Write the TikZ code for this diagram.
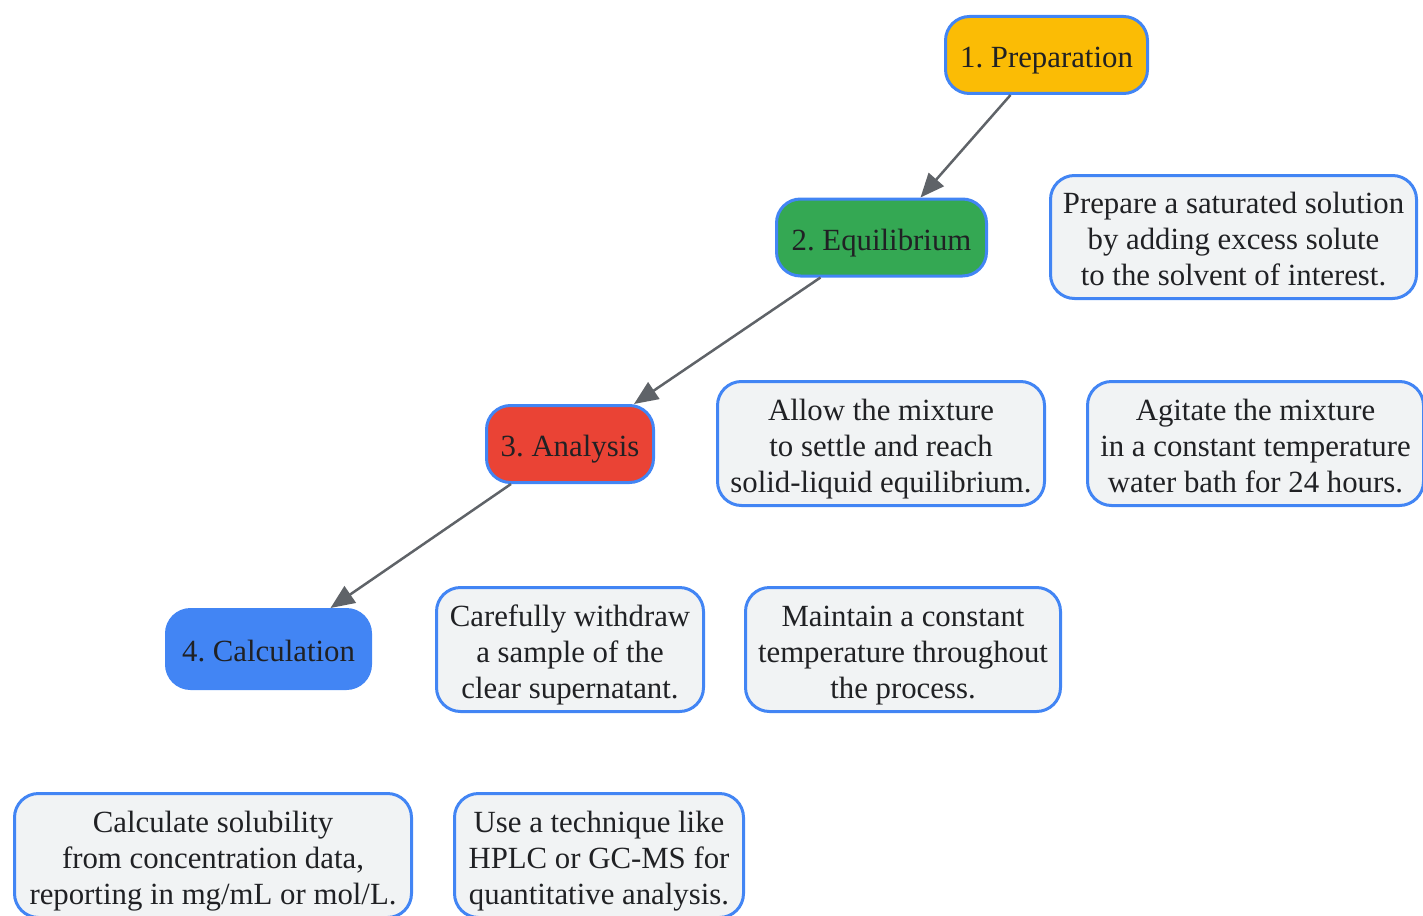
\documentclass[tikz,border=0pt]{standalone}
\usepackage{fontspec}
\setmainfont{Liberation Serif}
\frenchspacing
\usetikzlibrary{arrows.meta}
\definecolor{gblue}{HTML}{4285F4}
\definecolor{gyellow}{HTML}{FBBC05}
\definecolor{ggreen}{HTML}{34A853}
\definecolor{gred}{HTML}{EA4335}
\definecolor{ggrey}{HTML}{F1F3F4}
\definecolor{gtext}{HTML}{202124}
\definecolor{garrow}{HTML}{5F6368}
\newcommand\topstr{\rule{0pt}{32pt}}
\newcommand\botstr{\rule[-7pt]{0pt}{7pt}}
\tikzset{
  box/.style={draw=gblue, line width=3pt, rounded corners=24pt, inner sep=0pt, align=center,
    text=gtext, font=\fontsize{30.8}{36}\selectfont},
  stepbox/.style={box, minimum height=77pt},
  notebox/.style={box, fill=ggrey, minimum height=124pt},
  flow/.style={draw=garrow, line width=2.5pt, -{Triangle[length=24pt,width=20pt]}}
}
\begin{document}
\begin{tikzpicture}[x=1pt,y=-1pt]
\useasboundingbox (0,0) rectangle (1423,915);
\node[stepbox, fill=gyellow, minimum width=202pt] (prep) at (1046.5,55) {\topstr 1. Preparation\botstr};
\node[stepbox, fill=ggreen, minimum width=210pt] (equi) at (881.5,237.5) {\topstr 2. Equilibrium\botstr};
\node[stepbox, fill=gred, minimum width=167pt] (ana) at (570,444) {\topstr 3. Analysis\botstr};
\node[stepbox, fill=gblue, minimum width=204pt, minimum height=79pt] (calc) at (268.5,649) {\topstr 4. Calculation\botstr};

\node[notebox, minimum width=366pt, minimum height=123pt] (n1) at (1233.5,237) {\topstr Prepare a saturated solution\\by adding excess solute\\to the solvent of interest.\botstr};
\node[notebox, minimum width=327pt] (n2) at (881,443.5) {\topstr Allow the mixture\\to settle and reach\\solid-liquid equilibrium.\botstr};
\node[notebox, minimum width=336pt] (n3) at (1255.5,443.5) {\topstr Agitate the mixture\\in a constant temperature\\water bath for 24 hours.\botstr};
\node[notebox, minimum width=267pt] (n4) at (570,649.5) {\topstr Carefully withdraw\\a sample of the\\clear supernatant.\botstr};
\node[notebox, minimum width=315pt] (n5) at (903,649.5) {\topstr Maintain a constant\\temperature throughout\\the process.\botstr};
\node[notebox, minimum width=397pt] (n6) at (213,855.5) {\topstr Calculate solubility\\from concentration data,\\reporting in mg/mL or mol/L.\botstr};
\node[notebox, minimum width=289pt] (n7) at (599,855.5) {\topstr Use a technique like\\HPLC or GC-MS for\\quantitative analysis.\botstr};

\draw[flow] ([xshift=-36pt]prep.south) -- ([xshift=39pt]equi.north);
\draw[flow] ([xshift=-61pt]equi.south) -- ([xshift=64pt]ana.north);
\draw[flow] ([xshift=-59pt]ana.south) -- ([xshift=62pt]calc.north);
\end{tikzpicture}
\end{document}
